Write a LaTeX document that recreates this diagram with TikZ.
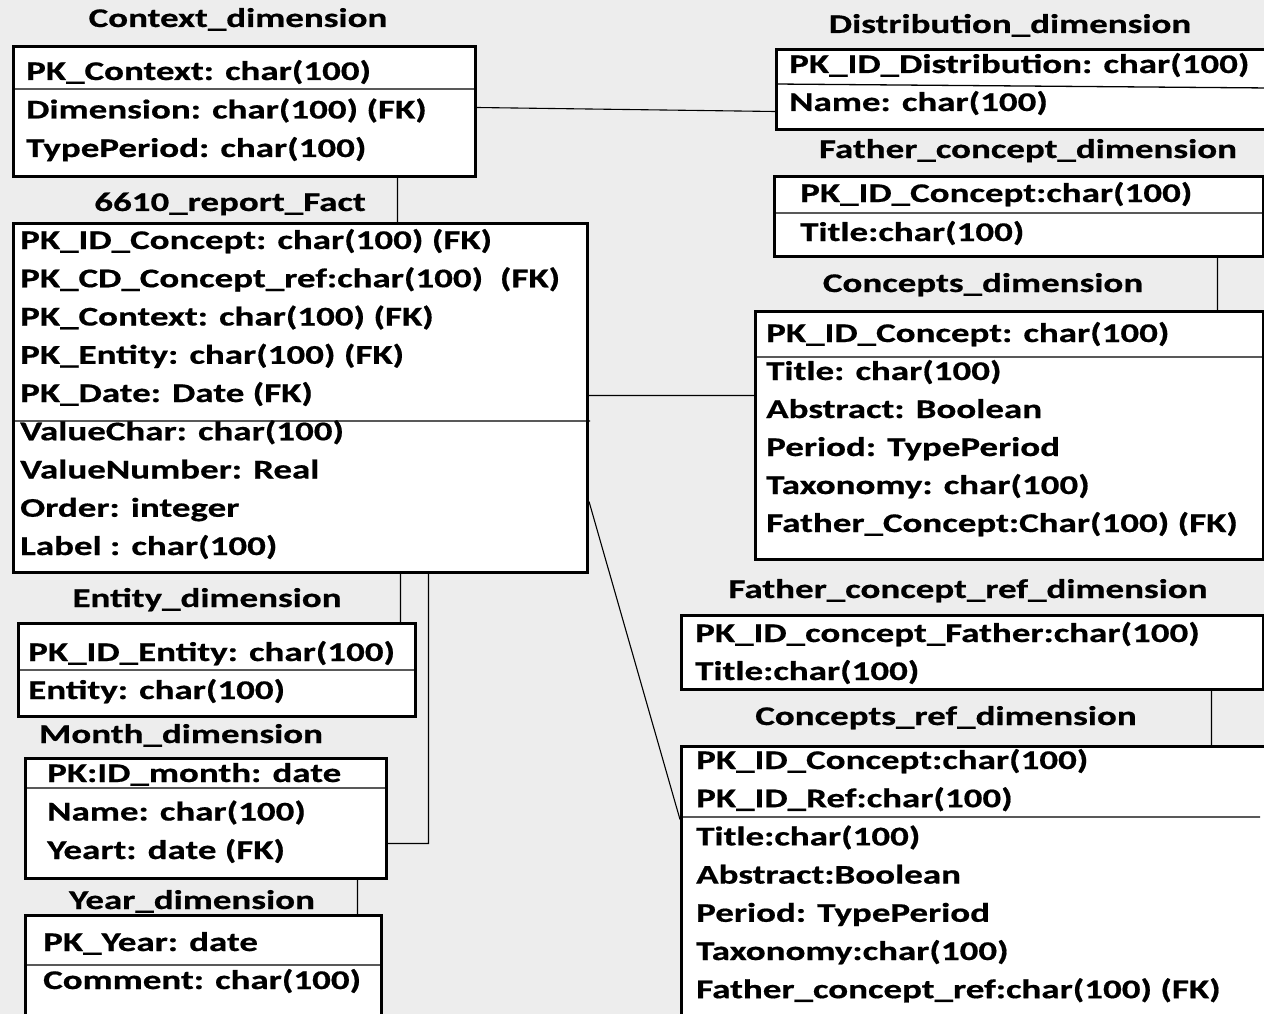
\documentclass[tikz,border=0pt]{standalone}
\usepackage{fontspec}
\newfontfamily\erfont{Carlito}[FakeStretch=1.37, FakeBold=0.6]
\definecolor{paper}{RGB}{237,237,237}
\tikzset{
  tbl/.style={draw, line width=3pt, fill=white, anchor=north west, inner sep=0pt},
  sep/.style={line width=1.3pt},
  link/.style={line width=1.1pt},
  attr/.style={anchor=base west, inner sep=0pt, font=\erfont\bfseries\fontsize{27}{32}\selectfont},
  ttl/.style={anchor=base, inner sep=0pt, font=\erfont\bfseries\fontsize{27}{32}\selectfont},
}
\begin{document}
\begin{tikzpicture}[x=1pt, y=-1pt]
	\clip (0,0) rectangle (1264,1014);
	\fill[paper] (0,0) rectangle (1264,1014);
	\node[ttl] (ctx-t) at (238,27) {Context\_dimension};
	\node[ttl] (dist-t) at (1010,33) {Distribution\_dimension};
	\node[ttl] (fcd-t) at (1028,158) {Father\_concept\_dimension};
	\node[ttl] (con-t) at (983,292) {Concepts\_dimension};
	\node[ttl] (fact-t) at (230,211) {6610\_report\_Fact};
	\node[ttl] (ent-t) at (207,607) {Entity\_dimension};
	\node[ttl] (mon-t) at (181,743) {Month\_dimension};
	\node[ttl] (year-t) at (192,909) {Year\_dimension};
	\node[ttl] (fcrd-t) at (968,598) {Father\_concept\_ref\_dimension};
	\node[ttl] (cref-t) at (946,725) {Concepts\_ref\_dimension};
	\begin{scope}[tbl]
		\node[tbl, minimum width=462pt, minimum height=130pt] (ctx) at (12,45) {};
		\node[tbl, minimum width=495pt, minimum height=80pt] (dist) at (775,48) {};
		\node[tbl, minimum width=489pt, minimum height=80pt] (fcd) at (773,175) {};
		\node[tbl, minimum width=508pt, minimum height=248pt] (con) at (754,310) {};
		\node[tbl, minimum width=574pt, minimum height=349pt] (fact) at (12,222) {};
		\node[tbl, minimum width=397pt, minimum height=93pt] (ent) at (17,622) {};
		\node[tbl, minimum width=361pt, minimum height=120pt] (mon) at (24,757) {};
		\node[tbl, minimum width=356pt, minimum height=106pt] (year) at (24,914) {};
		\node[tbl, minimum width=582pt, minimum height=74pt] (fcrd) at (680,614) {};
		\node[tbl, minimum width=590pt, minimum height=275pt] (cref) at (680,745) {};
	\end{scope}
	\draw[link]
		([yshift=4pt]ctx.east) -- ([yshift=-22pt]dist.west)
		([xshift=153pt]ctx.south) -- ([xshift=97pt]fact.north)
		([yshift=2.5pt]fact.east) -- ([yshift=40pt]con.west)
		([yshift=-103.5pt]fact.east) -- ([yshift=64.5pt]cref.west)
		([xshift=198.5pt]fcd.south) -- ([xshift=208pt]con.north)
		([xshift=239pt]fcrd.south) -- ([xshift=235pt]cref.north)
		([xshift=100pt]fact.south) -- ([xshift=183.5pt]ent.north)
		([xshift=128pt]fact.south) |- ([yshift=-25pt]mon.east)
		([xshift=151.5pt]mon.south) -- ([xshift=154pt]year.north);
	\draw[sep] (12,89) -- (474,89) (775,84) -- (1270,88) (773,213) -- (1262,213)
		(754,357) -- (1262,357) (12,421) -- (590,421) (17,670) -- (414,670)
		(24,788) -- (385,788) (24,965) -- (380,965) (680,817) -- (1260,817);
	\foreach \txt [count=\i] in {PK\_Context: char(100), Dimension: char(100) (FK), TypePeriod: char(100)}
		\node[attr] (ctx-\i) at (26,{80+38.5*(\i-1)}) {\txt};
	\foreach \txt [count=\i] in {PK\_ID\_Distribution: char(100), Name: char(100)}
		\node[attr] (dist-\i) at (789,{73+38*(\i-1)}) {\txt};
	\foreach \txt [count=\i] in {PK\_ID\_Concept:char(100), Title:char(100)}
		\node[attr] (fcd-\i) at (800,{202+39*(\i-1)}) {\txt};
	\foreach \txt [count=\i] in {PK\_ID\_Concept: char(100), Title: char(100), Abstract: Boolean, Period: TypePeriod, Taxonomy: char(100), Father\_Concept:Char(100) (FK)}
		\node[attr] (con-\i) at (766,{342+38*(\i-1)}) {\txt};
	\foreach \txt [count=\i] in {PK\_ID\_Concept: char(100) (FK), PK\_CD\_Concept\_ref:char(100)~~(FK), PK\_Context: char(100) (FK), PK\_Entity: char(100) (FK), PK\_Date: Date (FK), ValueChar: char(100), ValueNumber: Real, Order: integer, Label : char(100)}
		\node[attr] (fact-\i) at (20,{249+38.25*(\i-1)}) {\txt};
	\foreach \txt [count=\i] in {PK\_ID\_Entity: char(100), Entity: char(100)}
		\node[attr] (ent-\i) at (28,{661+38*(\i-1)}) {\txt};
	\foreach \txt [count=\i] in {PK:ID\_month: date, Name: char(100), Yeart: date (FK)}
		\node[attr] (mon-\i) at (47,{782+38.5*(\i-1)}) {\txt};
	\foreach \txt [count=\i] in {PK\_Year: date, Comment: char(100)}
		\node[attr] (year-\i) at (43,{951+38*(\i-1)}) {\txt};
	\foreach \txt [count=\i] in {PK\_ID\_concept\_Father:char(100), Title:char(100)}
		\node[attr] (fcrd-\i) at (695,{642+38*(\i-1)}) {\txt};
	\foreach \txt [count=\i] in {PK\_ID\_Concept:char(100), PK\_ID\_Ref:char(100), Title:char(100), Abstract:Boolean, Period: TypePeriod, Taxonomy:char(100), Father\_concept\_ref:char(100) (FK)}
		\node[attr] (cref-\i) at (696,{769+38.2*(\i-1)}) {\txt};
\end{tikzpicture}
\end{document}
